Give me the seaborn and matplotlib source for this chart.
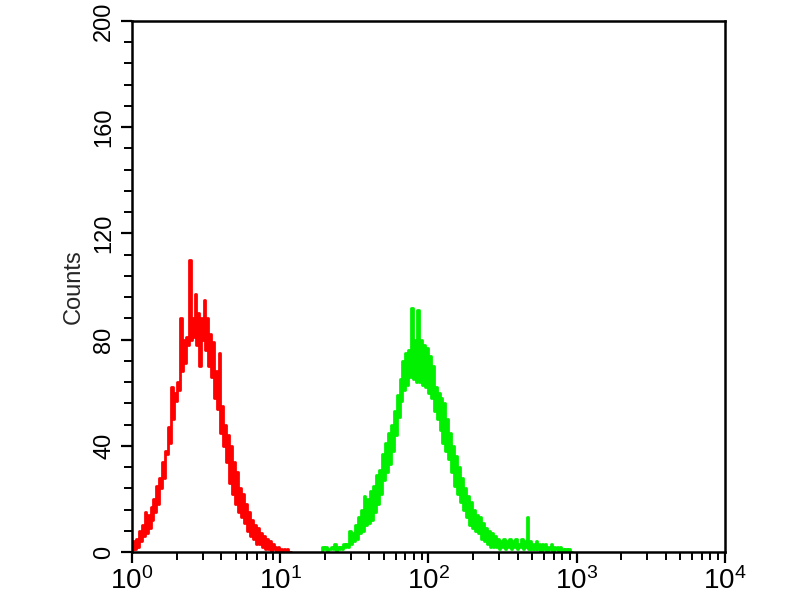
import numpy as np
import matplotlib
matplotlib.use("Agg")
import matplotlib.pyplot as plt
import seaborn as sns
from matplotlib.ticker import FixedLocator, MultipleLocator, LogLocator, NullFormatter

sns.set_style("white")
plt.rcParams["font.family"] = ["Liberation Sans", "DejaVu Sans"]

# channel spacing on the log10 axis (decades per channel)
channel_step = 0.01

# red histogram (isotype control), channels from log10 = 0.00
red_start = 0.00
red_counts = [1, 4, 1, 5, 2, 8, 4, 10, 6, 15, 7, 14, 9, 17, 12, 20, 15, 25, 18, 28,
              24, 34, 28, 38, 37, 47, 41, 62, 50, 60, 57, 64, 61, 88, 68, 80, 71, 81, 78, 110,
              80, 88, 81, 97, 78, 90, 70, 88, 80, 95, 76, 88, 70, 82, 66, 79, 58, 68, 54, 75,
              45, 55, 40, 48, 34, 44, 26, 40, 22, 34, 18, 30, 15, 24, 13, 22, 11, 18, 8, 15,
              6, 12, 5, 10, 3, 9, 3, 7, 2, 6, 1, 5, 1, 4, 0, 3, 1, 2, 0, 2,
              0, 1, 0, 1, 0, 1, 0, 0]

# green histogram (stained sample), channels from log10 = 1.28
green_start = 1.28
green_counts = [0, 2, 1, 2, 0, 1, 1, 2, 1, 3, 0, 2, 1, 2, 1, 3, 2, 3, 2, 8,
                3, 7, 4, 10, 5, 13, 7, 16, 8, 21, 10, 20, 11, 23, 12, 25, 15, 29, 18, 31,
                22, 37, 27, 41, 30, 45, 33, 48, 38, 53, 44, 59, 51, 65, 57, 72, 61, 75, 63, 76,
                66, 92, 65, 80, 64, 91, 64, 80, 63, 78, 62, 77, 60, 74, 58, 70, 53, 62, 50, 60,
                46, 58, 41, 56, 38, 50, 35, 45, 30, 40, 25, 36, 22, 32, 19, 28, 16, 24, 13, 21,
                10, 19, 9, 16, 8, 14, 7, 13, 5, 11, 4, 9, 3, 8, 2, 7, 2, 6, 2, 5,
                1, 4, 2, 5, 1, 4, 2, 5, 1, 4, 2, 5, 1, 3, 2, 5, 1, 4, 2, 13,
                1, 4, 1, 3, 1, 4, 1, 3, 0, 3, 1, 3, 0, 2, 1, 3, 0, 2, 1, 2,
                0, 2, 0, 1, 0, 1, 0, 1, 0, 0]

y_ticks = [0, 40, 80, 120, 160, 200]
x_ticks = [1, 10, 100, 1000, 10000]
x_labels = [r"$\mathregular{10^{0}}$", r"$\mathregular{10^{1}}$", r"$\mathregular{10^{2}}$",
            r"$\mathregular{10^{3}}$", r"$\mathregular{10^{4}}$"]

red_x = 10 ** (red_start + channel_step * np.arange(len(red_counts)))
green_x = 10 ** (green_start + channel_step * np.arange(len(green_counts)))

fig = plt.figure(figsize=(8, 6), dpi=100)
ax = fig.add_axes([0.165, 0.08, 0.741, 0.885])

sns.lineplot(x=red_x, y=red_counts, ax=ax, color="#ff0000", lw=2.0,
             drawstyle="steps-mid", estimator=None, sort=False)
sns.lineplot(x=green_x, y=green_counts, ax=ax, color="#00f000", lw=2.0,
             drawstyle="steps-mid", estimator=None, sort=False)

ax.set_xscale("log")
ax.set_xlim(1, 10000)
ax.set_ylim(0, 200)

ax.xaxis.set_major_locator(FixedLocator(x_ticks))
ax.set_xticklabels(x_labels)
ax.xaxis.set_minor_locator(LogLocator(base=10, subs=np.arange(2, 10)))
ax.xaxis.set_minor_formatter(NullFormatter())

ax.yaxis.set_major_locator(FixedLocator(y_ticks))
ax.yaxis.set_minor_locator(MultipleLocator(8))
ax.set_yticklabels([str(v) for v in y_ticks])
for lbl in ax.get_yticklabels():
    lbl.set_rotation(90)
    lbl.set_va("center")

for s in ax.spines.values():
    s.set_visible(True)
    s.set_color("black")
    s.set_linewidth(1.8)

ax.tick_params(which="major", direction="out", length=8, width=1.6, colors="black",
               labelsize=17, bottom=True, left=True, top=False, right=False)
ax.tick_params(which="minor", direction="out", length=6, width=1.4, colors="black",
               bottom=True, left=True, top=False, right=False)
ax.tick_params(axis="y", which="major", pad=4)
ax.tick_params(axis="x", which="major", labelsize=20, pad=3)

ax.set_ylabel("Counts", fontsize=17, labelpad=6)
ax.set_xlabel("")

fig.savefig("out.png", dpi=100, facecolor="white")
